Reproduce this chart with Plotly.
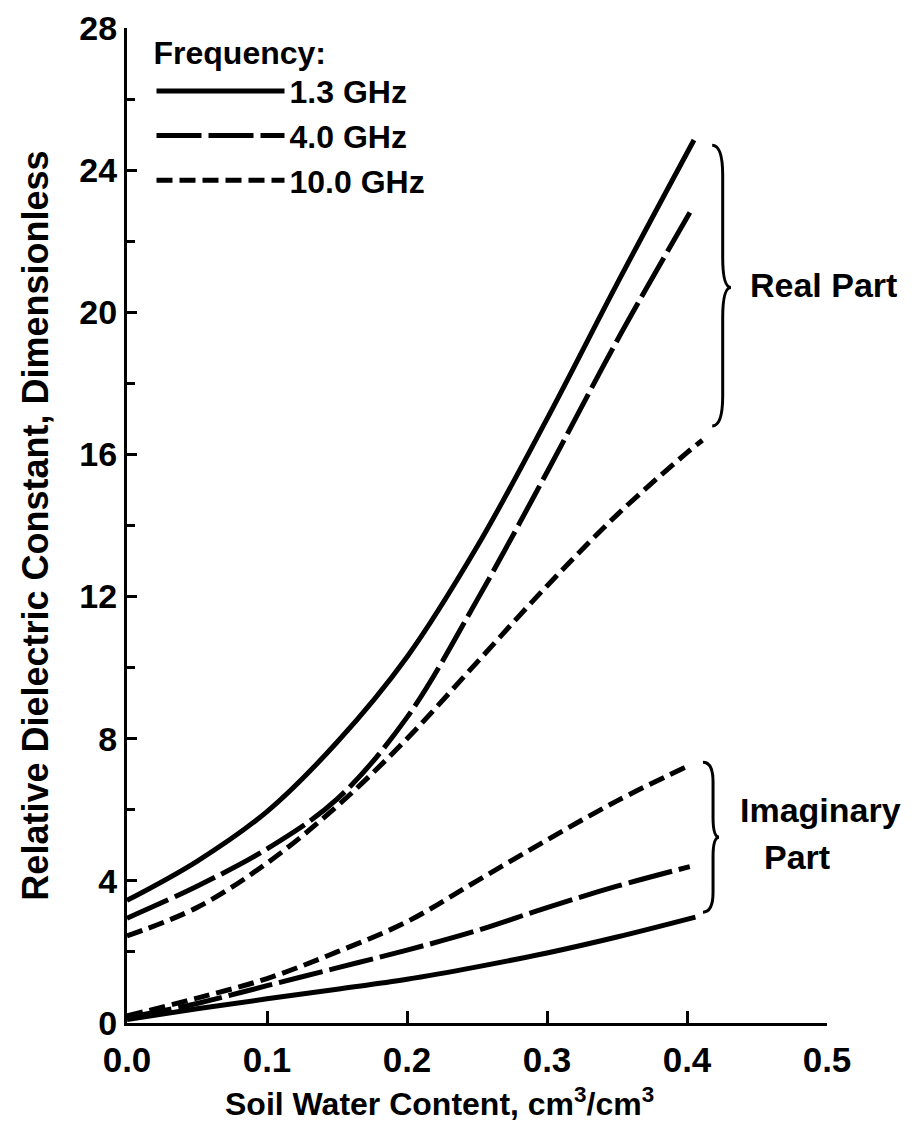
import plotly.graph_objects as go

# ---- data ----
freq_names = ["1.3 GHz", "4.0 GHz", "10.0 GHz"]

x_real_13 = [0.0, 0.05, 0.10, 0.15, 0.20, 0.25, 0.30, 0.35, 0.405]
y_real_13 = [3.45, 4.55, 5.95, 7.9, 10.3, 13.4, 17.0, 20.8, 24.85]

x_real_40 = [0.0, 0.05, 0.10, 0.15, 0.20, 0.25, 0.30, 0.35, 0.403]
y_real_40 = [2.95, 3.85, 4.9, 6.3, 8.6, 11.9, 15.5, 19.2, 22.87]

x_real_100 = [0.0, 0.05, 0.10, 0.15, 0.20, 0.25, 0.30, 0.35, 0.40, 0.411]
y_real_100 = [2.45, 3.25, 4.5, 6.1, 8.0, 10.15, 12.3, 14.3, 16.05, 16.4]

x_imag_13 = [0.0, 0.05, 0.10, 0.15, 0.20, 0.25, 0.30, 0.35, 0.406]
y_imag_13 = [0.1, 0.4, 0.68, 0.95, 1.23, 1.58, 1.97, 2.42, 2.98]

x_imag_40 = [0.0, 0.05, 0.10, 0.15, 0.20, 0.25, 0.30, 0.35, 0.402]
y_imag_40 = [0.15, 0.55, 1.05, 1.55, 2.05, 2.6, 3.25, 3.85, 4.4]

x_imag_100 = [0.0, 0.05, 0.10, 0.15, 0.20, 0.25, 0.30, 0.35, 0.399]
y_imag_100 = [0.2, 0.7, 1.25, 2.0, 2.85, 4.0, 5.15, 6.25, 7.2]

x_ticks = [0.0, 0.1, 0.2, 0.3, 0.4, 0.5]
x_ticktext = ["0.0", "0.1", "0.2", "0.3", "0.4", "0.5"]
y_ticks = [0, 4, 8, 12, 16, 20, 24, 28]

FONT = "Liberation Sans, Arial, sans-serif"
styles = {
    "1.3 GHz": dict(dash="solid", width=5),
    "4.0 GHz": dict(dash="45px,7px", width=5),
    "10.0 GHz": dict(dash="16px,7px", width=5),
}

series = [
    ("1.3 GHz", x_real_13, y_real_13, x_imag_13, y_imag_13),
    ("4.0 GHz", x_real_40, y_real_40, x_imag_40, y_imag_40),
    ("10.0 GHz", x_real_100, y_real_100, x_imag_100, y_imag_100),
]

fig = go.Figure()
for name, xr, yr, xi, yi in series:
    st = styles[name]
    fig.add_trace(go.Scatter(x=xr, y=yr, mode="lines", name=name, legendgroup=name,
                             line=dict(color="black", width=st["width"], dash=st["dash"], shape="spline")))
    fig.add_trace(go.Scatter(x=xi, y=yi, mode="lines", name=name, legendgroup=name, showlegend=False,
                             line=dict(color="black", width=st["width"], dash=st["dash"], shape="spline")))


def brace(x_end, x_spine, x_tip, y_top, y_mid, y_bot, h):
    return (f"M {x_end},{y_top} Q {x_spine},{y_top} {x_spine},{y_top - h} "
            f"L {x_spine},{y_mid + h} Q {x_spine},{y_mid} {x_tip},{y_mid} "
            f"Q {x_spine},{y_mid} {x_spine},{y_mid - h} "
            f"L {x_spine},{y_bot + h} Q {x_spine},{y_bot} {x_end},{y_bot}")


fig.add_shape(type="path", xref="x", yref="y",
              path=brace(0.418, 0.4255, 0.4314, 24.7, 20.7, 16.8, 0.85),
              line=dict(color="black", width=3))
fig.add_shape(type="path", xref="x", yref="y",
              path=brace(0.4114, 0.4186, 0.4229, 7.34, 5.23, 3.12, 0.55),
              line=dict(color="black", width=3))

TXT = dict(size=34, family=FONT, color="black", weight="bold")
fig.add_annotation(x=0.4436, y=20.76, xref="x", yref="y", text="Real Part", showarrow=False,
                   xanchor="left", yanchor="middle", font=TXT)
fig.add_annotation(x=0.4364, y=5.99, xref="x", yref="y", text="Imaginary", showarrow=False,
                   xanchor="left", yanchor="middle", font=TXT)
fig.add_annotation(x=0.4786, y=4.67, xref="x", yref="y", text="Part", showarrow=False,
                   xanchor="center", yanchor="middle", font=TXT)

# x-axis title (sits left of plot centre in the reference)
fig.add_annotation(x=0.446, y=-0.079, xref="paper", yref="paper",
                   text="Soil Water Content, cm<sup>3</sup>/cm<sup>3</sup>", showarrow=False,
                   xanchor="center", yanchor="middle",
                   font=dict(size=32, family=FONT, color="black", weight="bold"))

fig.update_layout(
    width=912, height=1130,
    margin=dict(l=119, r=93, t=20, b=115, autoexpand=False),
    paper_bgcolor="white", plot_bgcolor="white",
    font=dict(family=FONT, color="black", size=32, weight="bold"),
    showlegend=True,
    legend=dict(x=0.035, y=1.006, xanchor="left", yanchor="top",
                bgcolor="rgba(0,0,0,0)", borderwidth=0,
                title=dict(text="Frequency:", font=dict(size=32, family=FONT, weight="bold")),
                font=dict(size=32, family=FONT, weight="bold"),
                itemwidth=128, tracegroupgap=0),
    xaxis=dict(range=[0, 0.5], tickvals=x_ticks, ticktext=x_ticktext,
               ticks="inside", ticklen=12, tickwidth=3, tickcolor="black",
               showline=True, linewidth=3, linecolor="black",
               showgrid=False, zeroline=False, automargin=False,
               ticklabelstandoff=4,
               tickfont=dict(size=35, family=FONT, weight="bold")),
    yaxis=dict(range=[0, 28], tickvals=y_ticks,
               ticks="inside", ticklen=10, tickwidth=3, tickcolor="black",
               minor=dict(ticks="inside", dtick=2, ticklen=8, tickwidth=3, tickcolor="black"),
               showline=True, linewidth=3, linecolor="black",
               showgrid=False, zeroline=False, automargin=False,
               tickfont=dict(size=34, family=FONT, weight="bold"),
               title=dict(text="Relative Dielectric Constant, Dimensionless", standoff=20,
                          font=dict(size=36, family=FONT, weight="bold"))),
)

fig.write_html("out.html")
